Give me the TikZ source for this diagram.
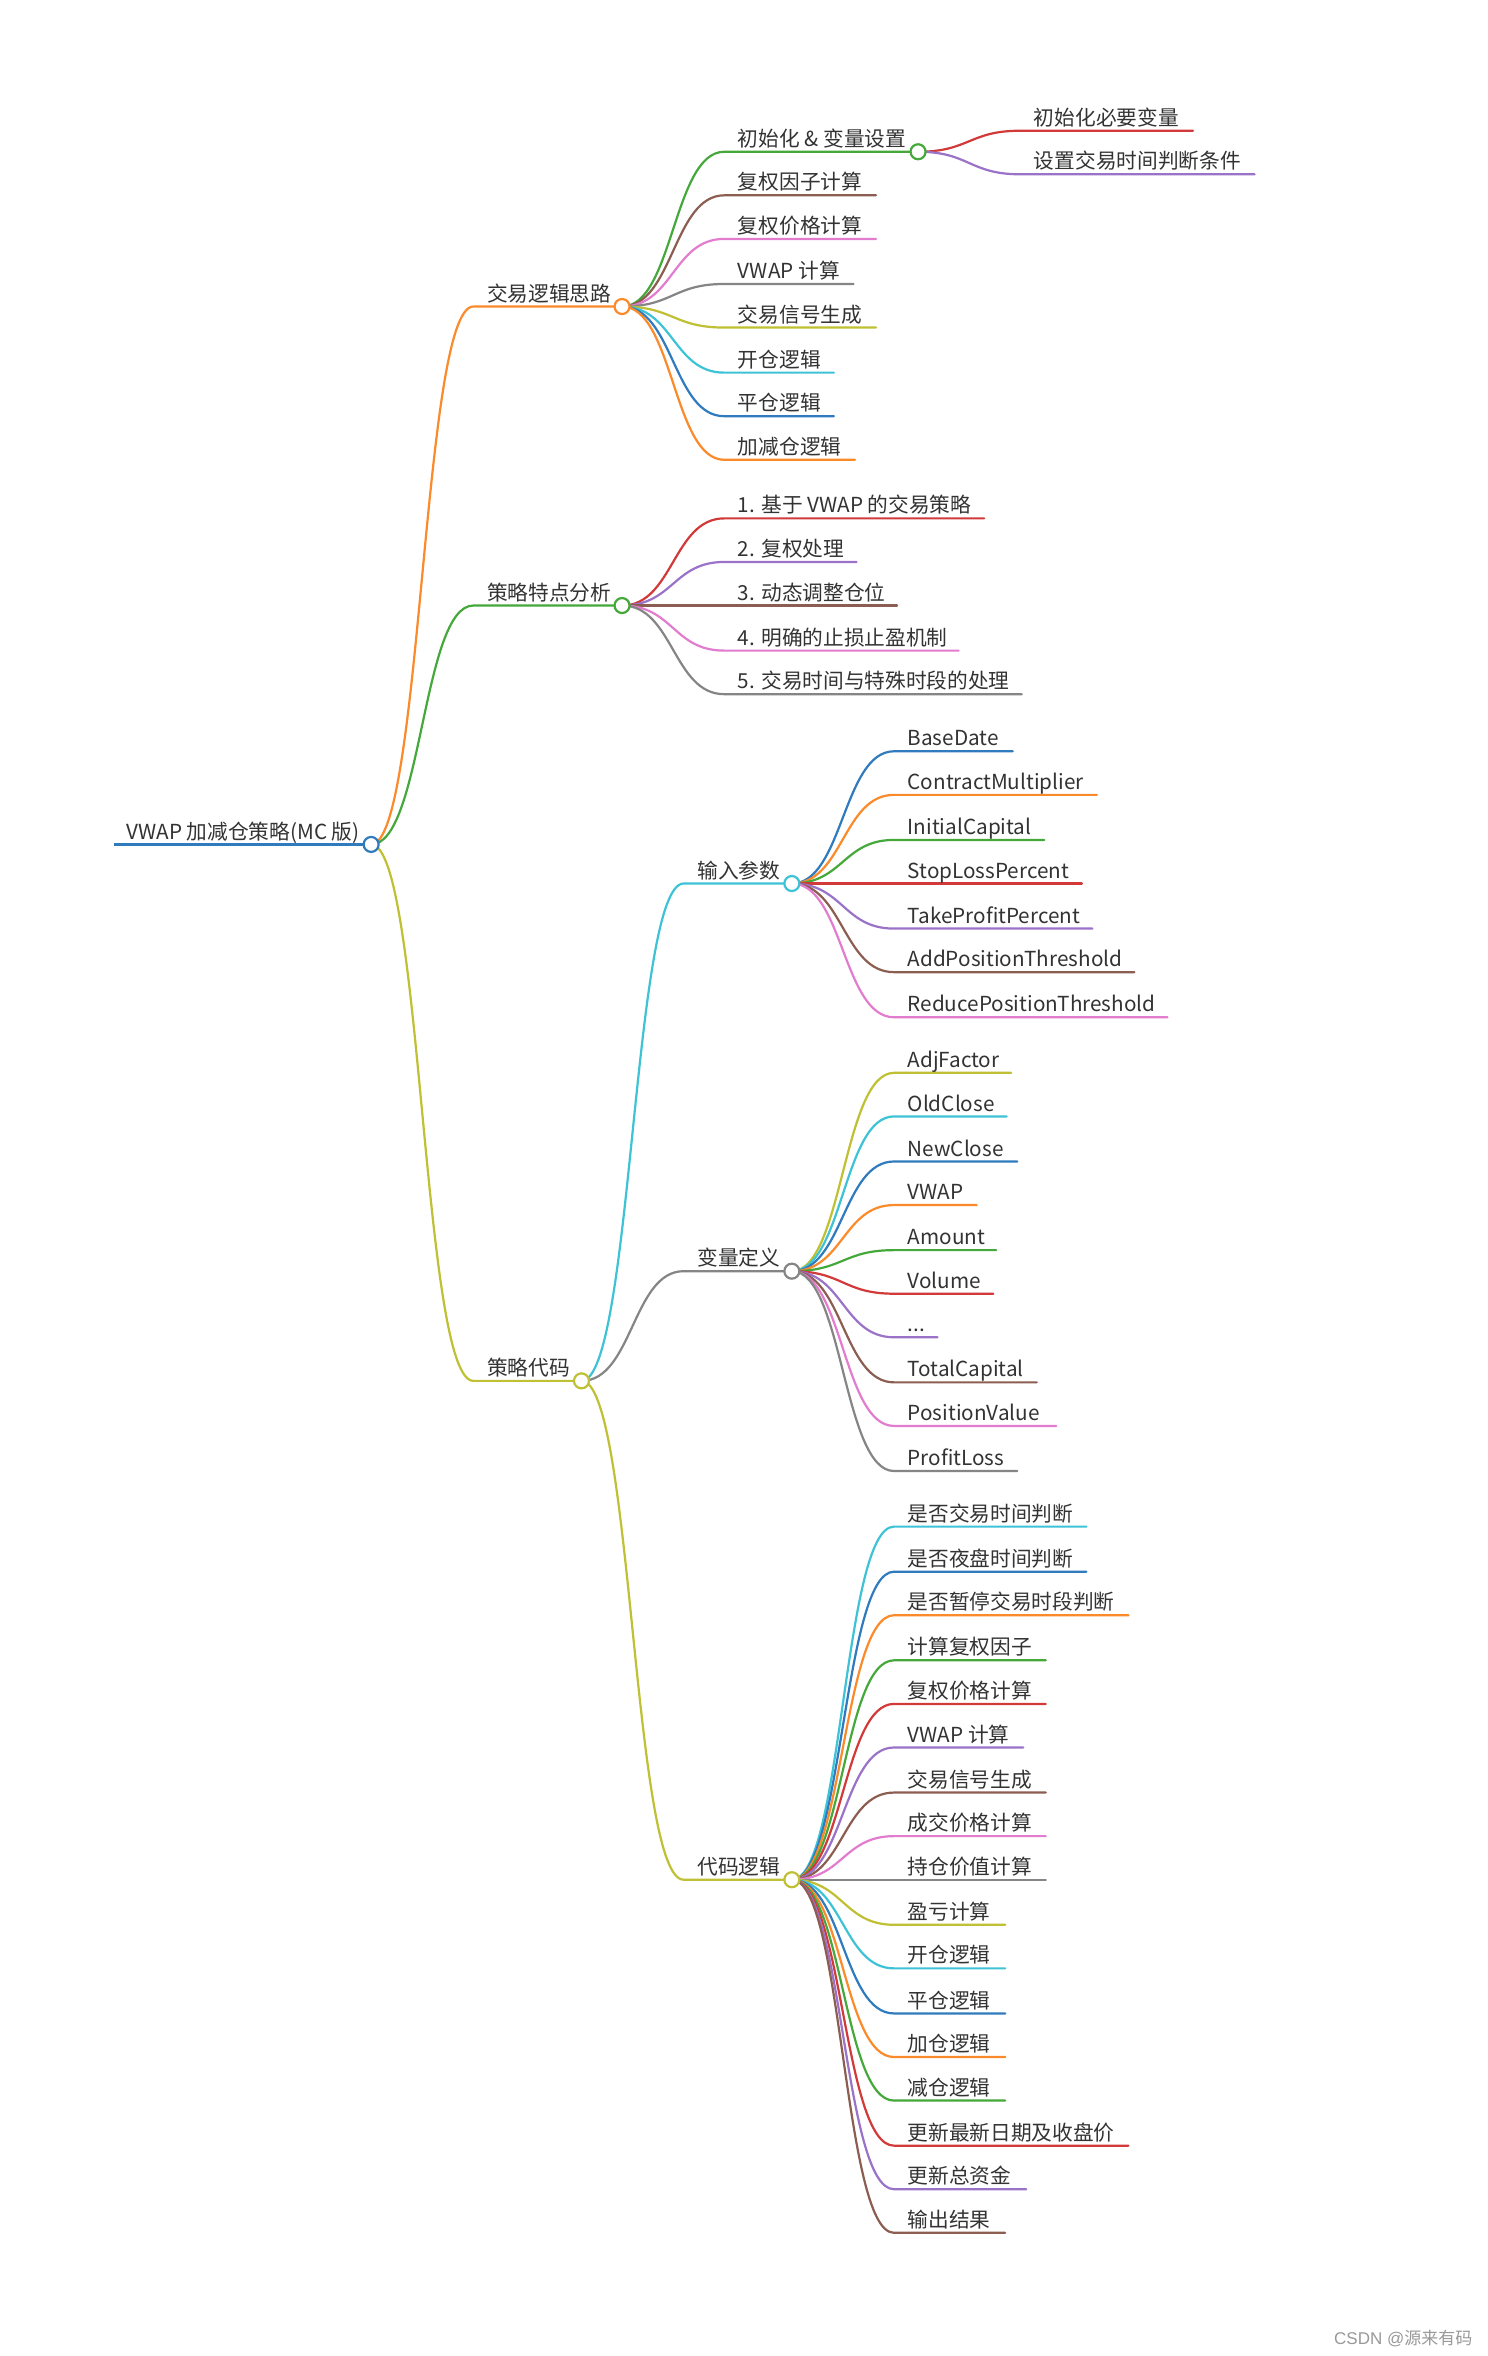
\documentclass[tikz,border=0pt]{standalone}
\usepackage{fontspec}
\setmainfont{Noto Sans CJK SC}
\newfontfamily\wmlatin{Liberation Sans}
\definecolor{mblue}{HTML}{2F7BBE}
\definecolor{morange}{HTML}{FA8A2A}
\definecolor{mgreen}{HTML}{45A83A}
\definecolor{mred}{HTML}{D23A3A}
\definecolor{mpurple}{HTML}{9A72C8}
\definecolor{mbrown}{HTML}{8C5E52}
\definecolor{mpink}{HTML}{E27CCE}
\definecolor{mgray}{HTML}{858585}
\definecolor{molive}{HTML}{BFC033}
\definecolor{mcyan}{HTML}{3EC3D6}
\definecolor{txt}{HTML}{333333}
\definecolor{wmgray}{HTML}{999999}
\newcommand\LatinT[1]{#1}
\newcommand\mmn[7]{%
  \coordinate (#1-l) at (#4,#5);
  \coordinate (#1) at (#6,#5);
  \draw[link,draw=#3] (#2) .. controls +(34,0) and +(-34,0) .. (#1-l) -- (#1);
  \node[lbl] (#1-t) at (#4+9,#5-3.6) {#7};
}
\begin{document}
\begin{tikzpicture}[x=1.503pt,y=-1.503pt,
  link/.style={line width=2.2pt,line cap=round},
  lbl/.style={anchor=base west,inner sep=0pt,text=txt,font=\fontsize{20.7}{24}\selectfont},
  dot/.style={circle,fill=white,line width=2.2pt,minimum size=15pt,inner sep=0pt}]
\fill[white] (0,0) rectangle (990,1568);
\useasboundingbox (0,0) rectangle (990,1568);

% root
\coordinate (r-l) at (76,562);
\coordinate (r) at (247,562);
\draw[line width=3.2pt,draw=mblue] (r-l) -- (r);
\node[lbl] (r-t) at (84,558.4) {VWAP 加减仓策略(MC 版)};

% level 1
\mmn{n1}{r}{morange}{315}{204}{414}{交易逻辑思路}
\mmn{n2}{r}{mgreen}{315}{403}{414}{策略特点分析}
\mmn{n3}{r}{molive}{315}{919}{387}{策略代码}

% under n1
\mmn{a1}{n1}{mgreen}{482}{101}{611}{初始化 \& 变量设置}
\mmn{a2}{n1}{mbrown}{482}{130}{583}{复权因子计算}
\mmn{a3}{n1}{mpink}{482}{159}{583}{复权价格计算}
\mmn{a4}{n1}{mgray}{482}{189}{568}{VWAP 计算}
\mmn{a5}{n1}{molive}{482}{218}{583}{交易信号生成}
\mmn{a6}{n1}{mcyan}{482}{248}{555}{开仓逻辑}
\mmn{a7}{n1}{mblue}{482}{277}{555}{平仓逻辑}
\mmn{a8}{n1}{morange}{482}{306}{569}{加减仓逻辑}

% under a1
\mmn{b1}{a1}{mred}{679}{87}{794}{初始化必要变量}
\mmn{b2}{a1}{mpurple}{679}{116}{835}{设置交易时间判断条件}

% under n2
\mmn{c1}{n2}{mred}{482}{345}{655}{1. 基于 VWAP 的交易策略}
\mmn{c2}{n2}{mpurple}{482}{374}{570}{2. 复权处理}
\mmn{c3}{n2}{mbrown}{482}{403}{597}{3. 动态调整仓位}
\mmn{c4}{n2}{mpink}{482}{433}{638}{4. 明确的止损止盈机制}
\mmn{c5}{n2}{mgray}{482}{462}{680}{5. 交易时间与特殊时段的处理}

% under n3
\mmn{d1}{n3}{mcyan}{455}{588}{527}{输入参数}
\mmn{d2}{n3}{mgray}{455}{846}{527}{变量定义}
\mmn{d3}{n3}{molive}{455}{1251}{527}{代码逻辑}

% under d1
\mmn{e1}{d1}{mblue}{595}{500}{674}{BaseDate}
\mmn{e2}{d1}{morange}{595}{529}{730}{ContractMultiplier}
\mmn{e3}{d1}{mgreen}{595}{559}{695}{InitialCapital}
\mmn{e4}{d1}{mred}{595}{588}{720}{StopLossPercent}
\mmn{e5}{d1}{mpurple}{595}{618}{727}{TakeProfitPercent}
\mmn{e6}{d1}{mbrown}{595}{647}{755}{AddPositionThreshold}
\mmn{e7}{d1}{mpink}{595}{677}{777}{ReducePositionThreshold}

% under d2
\mmn{f1}{d2}{molive}{595}{714}{673}{AdjFactor}
\mmn{f2}{d2}{mcyan}{595}{743}{670}{OldClose}
\mmn{f3}{d2}{mblue}{595}{773}{677}{NewClose}
\mmn{f4}{d2}{morange}{595}{802}{650}{VWAP}
\mmn{f5}{d2}{mgreen}{595}{832}{663}{Amount}
\mmn{f6}{d2}{mred}{595}{861}{661}{Volume}
\mmn{f7}{d2}{mpurple}{595}{890}{624}{...}
\mmn{f8}{d2}{mbrown}{595}{920}{690}{TotalCapital}
\mmn{f9}{d2}{mpink}{595}{949}{703}{PositionValue}
\mmn{f10}{d2}{mgray}{595}{979}{677}{ProfitLoss}

% under d3
\mmn{g1}{d3}{mcyan}{595}{1016}{723}{是否交易时间判断}
\mmn{g2}{d3}{mblue}{595}{1046}{723}{是否夜盘时间判断}
\mmn{g3}{d3}{morange}{595}{1075}{751}{是否暂停交易时段判断}
\mmn{g4}{d3}{mgreen}{595}{1105}{696}{计算复权因子}
\mmn{g5}{d3}{mred}{595}{1134}{696}{复权价格计算}
\mmn{g6}{d3}{mpurple}{595}{1163}{681}{VWAP 计算}
\mmn{g7}{d3}{mbrown}{595}{1193}{696}{交易信号生成}
\mmn{g8}{d3}{mpink}{595}{1222}{696}{成交价格计算}
\mmn{g9}{d3}{mgray}{595}{1251}{696}{持仓价值计算}
\mmn{g10}{d3}{molive}{595}{1281}{669}{盈亏计算}
\mmn{g11}{d3}{mcyan}{595}{1310}{669}{开仓逻辑}
\mmn{g12}{d3}{mblue}{595}{1340}{669}{平仓逻辑}
\mmn{g13}{d3}{morange}{595}{1369}{669}{加仓逻辑}
\mmn{g14}{d3}{mgreen}{595}{1398}{669}{减仓逻辑}
\mmn{g15}{d3}{mred}{595}{1428}{751}{更新最新日期及收盘价}
\mmn{g16}{d3}{mpurple}{595}{1457}{683}{更新总资金}
\mmn{g17}{d3}{mbrown}{595}{1486}{669}{输出结果}

% circles
\node[dot,draw=mblue] (r-c) at (r) {};
\node[dot,draw=morange] (n1-c) at (n1) {};
\node[dot,draw=mgreen] (n2-c) at (n2) {};
\node[dot,draw=molive] (n3-c) at (n3) {};
\node[dot,draw=mgreen] (a1-c) at (a1) {};
\node[dot,draw=mcyan] (d1-c) at (d1) {};
\node[dot,draw=mgray] (d2-c) at (d2) {};
\node[dot,draw=molive] (d3-c) at (d3) {};

% watermark
\node[anchor=base east,inner sep=0pt,text=wmgray,font=\fontsize{17}{20}\selectfont] (wm) at (980,1560) {{\wmlatin CSDN @}源来有码};
\end{tikzpicture}
\end{document}
